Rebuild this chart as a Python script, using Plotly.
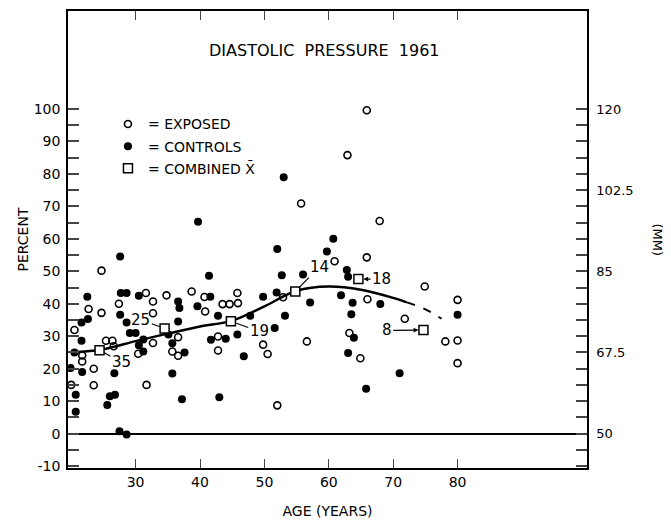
import plotly.graph_objects as go

# age (years) and percent
exp_age = [20.0, 20.5, 21.7, 21.7, 22.7, 23.5, 23.5, 24.7, 24.7, 25.4, 26.4, 26.6, 27.4,
           30.4, 31.6, 31.7, 32.7, 32.7, 32.7, 34.8, 35.7, 36.6, 36.6, 38.7, 40.7, 40.8,
           42.8, 42.8, 43.5, 44.6, 45.9, 45.8, 49.8, 50.5, 52.0, 52.9, 55.7, 56.6, 60.9,
           62.9, 63.2, 64.9, 65.9, 65.9, 66.0, 67.9, 71.8, 74.9, 78.1, 80.0, 80.0, 80.0]
exp_pct = [15.0, 31.9, 24.1, 22.2, 38.4, 20.0, 14.9, 50.2, 37.2, 28.6, 28.6, 26.9, 40.0,
           24.6, 43.3, 15.0, 40.7, 37.1, 27.9, 42.6, 25.3, 29.7, 24.0, 43.8, 42.1, 37.6,
           29.9, 25.6, 39.9, 39.9, 40.2, 43.3, 27.4, 24.5, 8.7, 42.0, 70.9, 28.4, 53.1,
           85.8, 31.0, 23.2, 54.3, 99.6, 41.4, 65.5, 35.4, 45.3, 28.4, 41.2, 28.7, 21.7]

ctl_age = [19.9, 20.5, 20.7, 20.7, 21.6, 21.6, 21.7, 22.5, 22.6, 25.6, 26.0, 26.8, 26.7,
           27.5, 28.6, 27.6, 27.7, 28.6, 27.6, 28.6, 29.1, 30.0, 30.5, 31.2, 30.5, 31.2,
           35.1, 35.7, 35.7, 36.6, 36.8, 36.6, 37.2, 37.6, 39.6, 39.7, 41.4, 41.6, 41.7,
           42.8, 43.0, 44.0, 45.8, 46.8, 47.8, 49.8, 51.6, 51.9, 52.0, 52.7, 53.0, 53.2,
           56.0, 57.1, 59.7, 60.7, 61.9, 62.8, 63.0, 63.0, 63.5, 63.7, 63.9, 65.8, 68.0,
           71.0, 80.0]
ctl_pct = [20.2, 25.0, 12.0, 6.7, 34.2, 28.6, 19.0, 42.2, 35.3, 8.8, 11.5, 12.0, 18.6,
           0.7, -0.3, 54.6, 43.3, 43.3, 36.6, 34.2, 31.0, 31.0, 42.5, 29.0, 27.2, 25.3,
           30.5, 27.8, 18.5, 40.7, 38.7, 34.5, 10.6, 25.0, 39.2, 65.3, 48.6, 42.2, 28.9,
           36.3, 11.2, 29.2, 30.5, 23.8, 36.3, 42.2, 32.5, 43.5, 56.9, 48.8, 79.0, 36.3,
           49.0, 40.4, 56.1, 60.0, 42.6, 50.4, 48.3, 24.8, 36.8, 40.3, 29.5, 13.8, 39.9,
           18.6, 36.6]

# combined means with number of subjects
mean_age = [24.4, 34.5, 44.8, 54.8, 64.6, 74.7]
mean_pct = [25.7, 32.4, 34.6, 43.8, 47.6, 31.9]
mean_n = ["35", "25", "19", "14", "18", "8"]
lab_age = [27.8, 30.8, 49.2, 58.5, 68.2, 69.0]
lab_pct = [22.0, 35.1, 31.5, 51.3, 47.6, 31.8]

# fitted curve (solid) and its dashed extension
fit_age = [20, 25, 30, 35, 40, 45, 50, 55, 60, 65, 70, 72]
fit_pct = [25.0, 26.0, 28.5, 30.8, 33.0, 34.8, 39.2, 44.0, 45.3, 44.3, 41.8, 40.5]
ext_age = [72, 75, 77.5]
ext_pct = [40.5, 38.3, 35.4]

age_ticks = [30, 40, 50, 60, 70, 80]
pct_ticks = list(range(-10, 101, 5))
pct_labels = [str(v) if v % 10 == 0 else "" for v in pct_ticks]
mm_ticks = [43, 46.5, 50, 53.5, 57, 60.5, 64, 67.5, 71, 74.5, 78, 81.5, 85, 88.5, 92,
            95.5, 99, 102.5, 106, 109.5, 113, 116.5, 120]
mm_labels = ["", "", "50", "", "", "", "", "67.5", "", "", "", "", "85", "", "", "",
             "", "102.5", "", "", "", "", "120"]

FONT = "DejaVu Sans"
yr = [-10.6, 130.2]

fig = go.Figure()
fig.add_trace(go.Scatter(x=fit_age, y=fit_pct, mode="lines", line=dict(color="black", width=2.5, shape="spline"),
                         showlegend=False, hoverinfo="skip"))
fig.add_trace(go.Scatter(x=ext_age, y=ext_pct, mode="lines", line=dict(color="black", width=2, dash="dash", shape="spline"),
                         showlegend=False, hoverinfo="skip"))
fig.add_trace(go.Scatter(x=exp_age, y=exp_pct, mode="markers", name="= EXPOSED", legendgroup="a",
                         marker=dict(symbol="circle-open", size=7, color="black", line=dict(width=1.6))))
fig.add_trace(go.Scatter(x=ctl_age, y=ctl_pct, mode="markers", name="= CONTROLS", legendgroup="b",
                         marker=dict(symbol="circle", size=8, color="black")))
fig.add_trace(go.Scatter(x=mean_age, y=mean_pct, mode="markers", name="= COMBINED X\u0304", legendgroup="c",
                         marker=dict(symbol="square", size=9, color="white", line=dict(color="black", width=1.5))))
# invisible trace so the right-hand (mm) axis gets drawn
fig.add_trace(go.Scatter(x=[age_ticks[0]], y=[mm_ticks[2]], yaxis="y2", mode="markers",
                         marker=dict(opacity=0), showlegend=False, hoverinfo="skip"))

for i in range(len(mean_n)):
    arrow = 2 if mean_n[i] in ("18", "8") else 0
    fig.add_annotation(x=mean_age[i], y=mean_pct[i], ax=lab_age[i], ay=lab_pct[i], axref="x", ayref="y",
                       text=mean_n[i], showarrow=True, arrowhead=arrow, arrowsize=0.8, arrowwidth=1.2,
                       arrowcolor="black", standoff=5, font=dict(family=FONT, size=15, color="black"))

fig.add_annotation(text="DIASTOLIC  PRESSURE  1961", x=0.495, y=0.913, xref="paper", yref="paper",
                   xanchor="center", yanchor="middle", showarrow=False,
                   font=dict(family=FONT, size=16, color="black"))
fig.add_annotation(text="(MM)", x=1.135, y=0.5, xref="paper", yref="paper", xanchor="center",
                   yanchor="middle", showarrow=False, textangle=90,
                   font=dict(family=FONT, size=13, color="black"))

# page has an 8px body margin, so the figure is shrunk by that much
fig.update_layout(
    width=663, height=516,
    margin=dict(l=60, r=84, t=1, b=56),
    paper_bgcolor="white", plot_bgcolor="white",
    font=dict(family=FONT, size=14, color="black"),
    legend=dict(x=0.077, y=0.787, xanchor="left", yanchor="top", bgcolor="rgba(0,0,0,0)",
                font=dict(size=14), tracegroupgap=1),
    xaxis=dict(range=[19.5, 100.1], tickvals=age_ticks, ticks="inside", ticklen=9, tickwidth=1,
               showline=True, linecolor="black", linewidth=1.5, mirror="ticks", showgrid=False,
               zeroline=False, title=dict(text="AGE (YEARS)", standoff=18, font=dict(size=14))),
    yaxis=dict(range=yr, tickvals=pct_ticks, ticktext=pct_labels, ticks="inside", ticklen=11,
               tickwidth=1.5, showline=True, linecolor="black", linewidth=1.5, showgrid=False,
               zeroline=True, zerolinecolor="black", zerolinewidth=1.5, ticklabelstandoff=3,
               title=dict(text="PERCENT", standoff=2, font=dict(size=14))),
    yaxis2=dict(range=[50 + 0.7 * v for v in yr], overlaying="y", side="right", tickvals=mm_ticks,
                ticktext=mm_labels, ticks="inside", ticklen=11, tickwidth=1.5, showline=True,
                linecolor="black", linewidth=1.5, showgrid=False, zeroline=False, ticklabelstandoff=5,
                tickfont=dict(size=13)),
)

fig.write_html("out.html")
